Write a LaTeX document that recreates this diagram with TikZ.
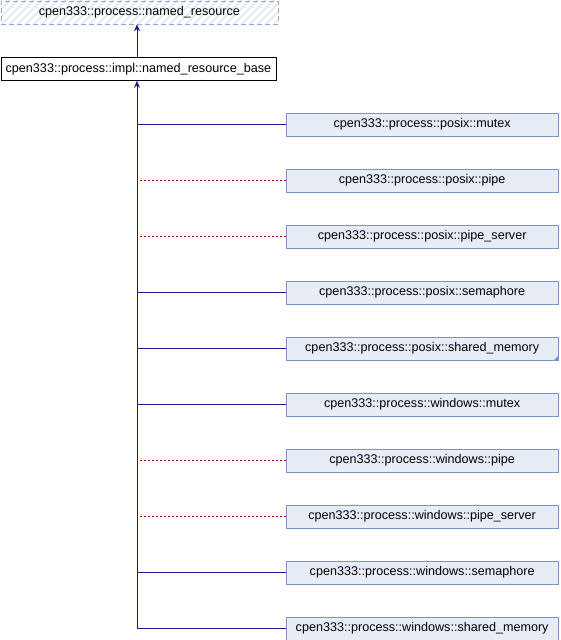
\documentclass[tikz,border=0pt]{standalone}
\usepackage{fontspec}
\setmainfont{Liberation Sans}
\usetikzlibrary{arrows.meta,patterns}
\definecolor{boxfill}{HTML}{E8ECF5}
\definecolor{boxline}{HTML}{7C95C6}
\definecolor{hatchline}{HTML}{DCE2EE}
\definecolor{dashline}{HTML}{8FA8D6}
\definecolor{pubedge}{HTML}{1A1A8F}
\definecolor{privedge}{HTML}{A00000}
\tikzset{
  labelfont/.style={font=\fontsize{12.6}{14}\selectfont},
  classbox/.style={draw=boxline, fill=boxfill, line width=0.8pt, minimum width=272.5pt,
    minimum height=23pt, inner sep=0pt, labelfont, anchor=north west},
  basebox/.style={draw=black, fill=white, line width=0.8pt, minimum width=275pt,
    minimum height=23pt, inner sep=0pt, labelfont, anchor=north west},
  publine/.style={draw=pubedge, line width=0.9pt},
  privline/.style={draw=privedge, line width=0.9pt, dash pattern=on 2pt off 2pt},
  inherit/.style={-{Stealth[length=7pt,width=6pt]}, draw=pubedge, line width=0.9pt},
}
\begin{document}
\begin{tikzpicture}[x=1pt,y=-1pt]
\useasboundingbox (0,0) rectangle (560,640);
% hatched abstract root class
\begin{scope}
  \clip (0.5,0.5) rectangle (277.5,23.5);
  \fill[white] (0,0) rectangle (278,24);
  \foreach \k in {-30,-22,...,300} {
    \draw[hatchline, line width=1.2pt] (\k,24) -- (\k+24,0);
  }
\end{scope}
\node[draw=dashline, dashed, dash pattern=on 5pt off 3pt, line width=0.8pt, minimum width=277pt,
  minimum height=23pt, inner sep=0pt, labelfont, anchor=north west]
  (root) at (0.5,0.5) {cpen333::process::named\_resource};
\node[basebox] (base) at (0.5,57) {cpen333::process::impl::named\_resource\_base};
\draw[inherit] (base.north -| 137,0) -- (root.south -| 137,0);

% derived classes
\foreach \name/\lbl/\row in {
  mtx/posix::mutex/0, pip/posix::pipe/1, pips/posix::pipe\_server/2,
  sem/posix::semaphore/3, shm/posix::shared\_memory/4,
  wmtx/windows::mutex/5, wpip/windows::pipe/6, wpips/windows::pipe\_server/7,
  wsem/windows::semaphore/8, wshm/windows::shared\_memory/9} {
  \node[classbox] (\name) at (285.5,112.5+56*\row) {cpen333::process::\lbl};
}
% truncation marker
\fill[boxline] (shm.south east) -- ++(0,-5) -- ++(-5,5) -- cycle;

\coordinate (trunk) at (137,628);
\draw[publine] (trunk) -- (137,88);
\draw[inherit] (137,88) -- (base.south -| 137,0);
\foreach \name in {mtx,sem,shm,wmtx,wsem,wshm} {
  \draw[publine] (\name.west) -- (\name.west -| trunk);
}
\foreach \name in {pip,pips,wpip,wpips} {
  \draw[privline] (\name.west) -- (\name.west -| trunk);
}
\end{tikzpicture}
\end{document}
